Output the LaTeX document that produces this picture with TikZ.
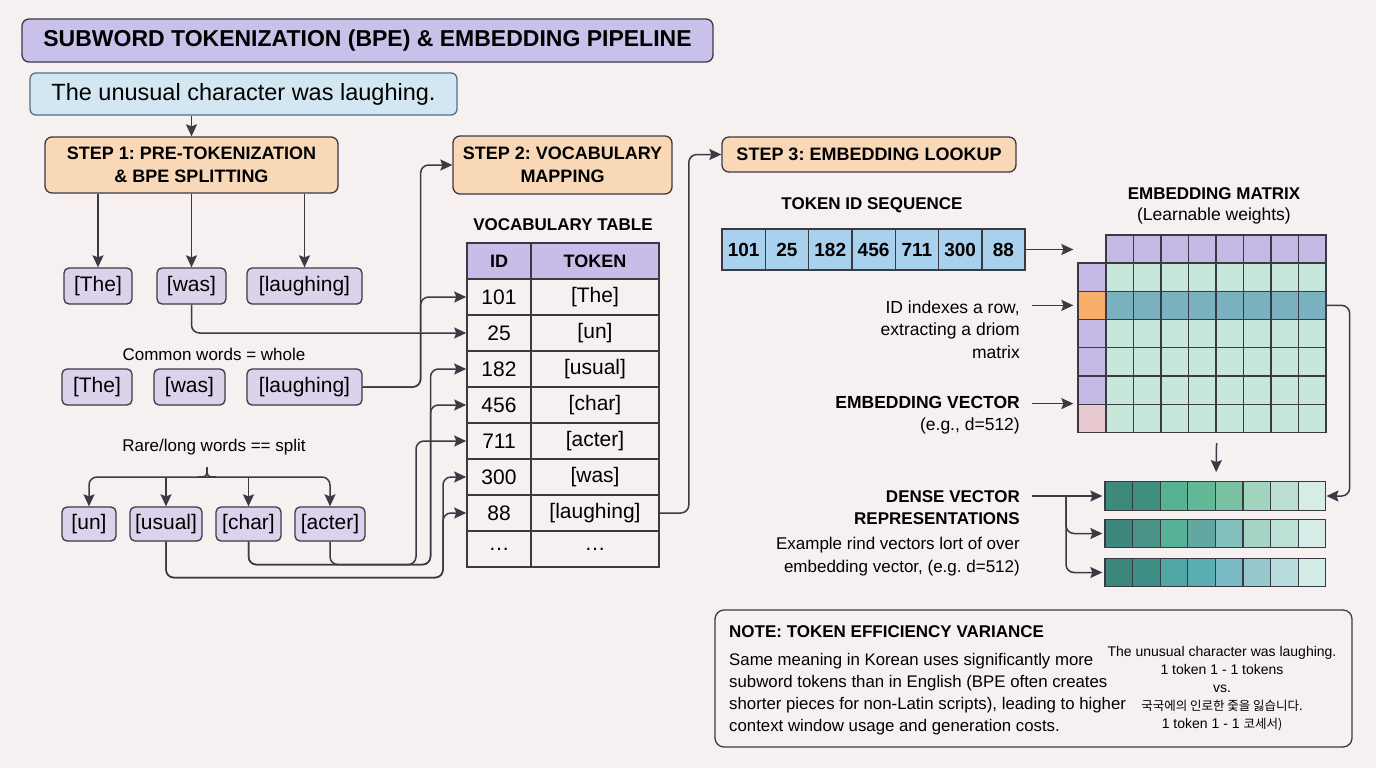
\documentclass[tikz,border=0pt]{standalone}
\usepackage{fontspec}
\setmainfont{Liberation Sans}
\newfontfamily\krfont{Noto Sans CJK KR}
\usepackage{tikz}
\usetikzlibrary{arrows.meta, positioning}
\frenchspacing

\definecolor{paper}{HTML}{F6F0F0}
\definecolor{linegrey}{HTML}{3A3A44}
\definecolor{titlefill}{HTML}{C9C1E9}
\definecolor{sentfill}{HTML}{D3E7F2}
\definecolor{sentdraw}{HTML}{4F7189}
\definecolor{stepfill}{HTML}{F9D8B7}
\definecolor{tokfill}{HTML}{DCD2EC}
\definecolor{headfill}{HTML}{C7BDE8}
\definecolor{seqfill}{HTML}{A9D0EC}
\definecolor{keypurple}{HTML}{C4B8E4}
\definecolor{keyorange}{HTML}{F6AE68}
\definecolor{keypink}{HTML}{E8C8CF}
\definecolor{mint}{HTML}{C6E7DA}
\definecolor{hilite}{HTML}{7AB2BF}

\tikzstyle{titlebox} = [rectangle, rounded corners=7pt, draw=linegrey, line width=1.3pt, fill=titlefill, minimum width=691pt, minimum height=43pt, inner sep=0pt, font=\fontsize{23}{27}\selectfont\bfseries]
\tikzstyle{sentbox} = [rectangle, rounded corners=6pt, draw=sentdraw, line width=1.3pt, fill=sentfill, minimum width=427pt, minimum height=42pt, inner sep=0pt, font=\fontsize{23.5}{28}\selectfont]
\tikzstyle{stepbox} = [rectangle, rounded corners=7pt, draw=linegrey, line width=1.3pt, fill=stepfill, inner sep=0pt, align=center, font=\fontsize{18}{23}\selectfont\bfseries]
\tikzstyle{tokbox} = [rectangle, rounded corners=5pt, draw=linegrey, line width=1.3pt, fill=tokfill, minimum height=36pt, inner sep=0pt, font=\fontsize{21}{25}\selectfont]
\tikzstyle{cell} = [rectangle, draw=linegrey, line width=1.6pt, minimum height=36pt, inner sep=0pt, font=\fontsize{21}{25}\selectfont]
\tikzstyle{seqcell} = [rectangle, draw=linegrey, line width=1.4pt, fill=seqfill, minimum width=43.3pt, minimum height=41pt, inner sep=0pt, font=\fontsize{19}{23}\selectfont\bfseries]
\tikzstyle{mcell} = [rectangle, draw=linegrey, line width=1.3pt, minimum width=27.5pt, minimum height=28.25pt, inner sep=0pt]
\tikzstyle{vcell} = [rectangle, draw=linegrey, line width=1.3pt, minimum width=27.6pt, minimum height=28.5pt, inner sep=0pt]
\tikzstyle{heading} = [inner sep=0pt, font=\fontsize{17}{21}\selectfont\bfseries]
\tikzstyle{sidetext} = [inner sep=0pt, align=right, anchor=east, font=\fontsize{17.5}{22.5}\selectfont]
\tikzstyle{notebox} = [rectangle, rounded corners=9pt, draw=linegrey, line width=1.3pt, fill=paper, minimum width=637pt, minimum height=137pt]
\tikzstyle{wire} = [line width=1.5pt, draw=linegrey]
\tikzstyle{arrow} = [line width=1.5pt, draw=linegrey, rounded corners=8pt, ->, >={Stealth[length=12pt,width=11pt,inset=2pt]}]

\begin{document}
\begin{tikzpicture}[x=1pt, y=-1pt]
\useasboundingbox[fill=paper] (0,0) rectangle (1376,768);

% title and input
\node (title) [titlebox] at (367.5,40.5) {SUBWORD TOKENIZATION (BPE) \& EMBEDDING PIPELINE};
\node (sentence) [sentbox] at (243.5,94) {The unusual character was laughing.};

% the three steps
\node (step1) [stepbox, minimum width=293pt, minimum height=56pt] at (191.5,165) {STEP 1: PRE-TOKENIZATION\\\& BPE SPLITTING};
\node (step2) [stepbox, minimum width=219pt, minimum height=58pt] at (562.5,165) {STEP 2: VOCABULARY\\MAPPING};
\node (step3) [stepbox, minimum width=294pt, minimum height=35pt] at (869,154.5) {STEP 3: EMBEDDING LOOKUP};

% pre-tokenized words
\node (the1) [tokbox, minimum width=68pt] at (98,286) {[The]};
\node (was1) [tokbox, minimum width=69pt] at (191.5,286) {[was]};
\node (laugh1) [tokbox, minimum width=115pt] at (304.5,286) {[laughing]};

\node (common) [font=\fontsize{17}{21}\selectfont, inner sep=0pt] at (214,354) {Common words = whole};
\node (the2) [tokbox, minimum width=70pt] at (97,387) {[The]};
\node (was2) [tokbox, minimum width=71pt] at (189.5,387) {[was]};
\node (laugh2) [tokbox, minimum width=115pt] at (304.5,387) {[laughing]};

\node (rare) [font=\fontsize{17}{21}\selectfont, inner sep=0pt] at (214,447) {Rare/long words == split};
\node (un) [tokbox, minimum width=54pt, minimum height=34pt] at (89,524) {[un]};
\node (usual) [tokbox, minimum width=72pt, minimum height=34pt] at (166,524) {[usual]};
\node (char) [tokbox, minimum width=65pt, minimum height=34pt] at (248.5,524) {[char]};
\node (acter) [tokbox, minimum width=70pt, minimum height=34pt] at (330,524) {[acter]};

% vocabulary table
\node (vocab) [heading] at (563,225) {VOCABULARY TABLE};
\node (idh) [cell, fill=headfill, minimum width=64pt, font=\fontsize{18}{22}\selectfont\bfseries] at (499,261) {ID};
\node (tokh) [cell, fill=headfill, minimum width=128pt, font=\fontsize{18}{22}\selectfont\bfseries] at (595,261) {TOKEN};
\foreach \vid/\vtok [count=\r] in {101/{[The]}, 25/{[un]}, 182/{[usual]}, 456/{[char]}, 711/{[acter]}, 300/{[was]}, 88/{[laughing]}, {\ldots}/{\ldots}} {
  \node (id\r) [cell, minimum width=64pt] at (499,{261+36*\r}) {\vid};
  \node (tok\r) [cell, minimum width=128pt] at (595,{261+36*\r}) {\vtok};
}

% token ids
\node (seqlbl) [heading] at (872,205) {TOKEN ID SEQUENCE};
\foreach \vid [count=\k] in {101,25,182,456,711,300,88}
  \node (seq-\k) [seqcell] at ({722+43.3*(\k-0.5)},249.5) {\vid};

% embedding matrix
\node (matlbl) [heading] at (1214,194) {EMBEDDING MATRIX};
\node (matsub) [font=\fontsize{17.5}{21}\selectfont, inner sep=0pt] at (1214,216) {(Learnable weights)};
\foreach \c in {1,...,8}
  \node (head-\c) [mcell, fill=keypurple] at ({1106+27.5*(\c-0.5)},249) {};
\foreach \r/\kc/\mc in {1/keypurple/mint, 2/keyorange/hilite, 3/keypurple/mint, 4/keypurple/mint, 5/keypurple/mint, 6/keypink/mint} {
  \node (key-\r) [mcell, fill=\kc, minimum width=28pt] at (1092,{263+28.25*(\r-0.5)}) {};
  \foreach \c in {1,...,8}
    \node (mat-\r-\c) [mcell, fill=\mc] at ({1106+27.5*(\c-0.5)},{263+28.25*(\r-0.5)}) {};
}

% dense vectors
\foreach \v/\y/\cols in {1/496/{3E8A78,3F8F7C,55B292,62B896,78C2A2,A2D4BD,BADFD0,D5EDE4},
                         2/533.5/{3E877E,4A9487,58B096,63A8A0,82C0BC,A4D5C4,BCDFD6,D6ECE7},
                         3/572.5/{3D877A,3D8F85,4FA6A2,5AADB1,7BBBC6,97C8CD,B7DCDD,D3ECE8}} {
  \foreach \hex [count=\c] in \cols {
    \definecolor{cellc}{HTML}{\hex}
    \node (vec-\v-\c) [vcell, fill=cellc] at ({1105+27.6*(\c-0.5)},\y) {};
  }
}

% side labels
\node (rowlbl) [sidetext] at (1020,329.5) {ID indexes a row,\\extracting a driom\\matrix};
\node (veclbl) [sidetext] at (1020,415) {{\bfseries EMBEDDING VECTOR}\\(e.g., d=512)};
\node (denselbl) [sidetext, font=\fontsize{17}{22}\selectfont\bfseries] at (1020,508) {DENSE VECTOR\\REPRESENTATIONS};
\node (exlbl) [sidetext, font=\fontsize{17}{23}\selectfont] at (1020,556.5) {Example rind vectors lort of over\\embedding vector, (e.g. d=512)};

% note
\node (note) [notebox] at (1033.5,678.5) {};
\node (notehead) [heading, anchor=west] at (729,632) {NOTE: TOKEN EFFICIENCY VARIANCE};
\node (notebody) [anchor=west, align=left, inner sep=0pt, font=\fontsize{16.8}{22}\selectfont] at (729,694)
  {Same meaning in Korean uses significantly more\\subword tokens than in English (BPE often creates\\shorter pieces for non-Latin scripts), leading to higher\\context window usage and generation costs.};
\node (notecmp) [align=center, inner sep=0pt, font=\fontsize{14}{18}\selectfont] at (1222,688.5)
  {The unusual character was laughing.\\1 token 1 - 1 tokens\\vs.\\{\krfont\fontsize{12.5}{18}\selectfont 국국에의 인로한 줓을 잃습니다.}\\1 token 1 - 1 {\krfont\fontsize{12.5}{18}\selectfont 코세서)}};

% step 1 connectors
\draw [arrow] (step1.north |- sentence.south) -- (step1.north);
\draw [arrow] (step1.south -| the1) -- (the1.north);
\draw [arrow] (step1.south -| was1) -- (was1.north);
\draw [arrow] (step1.south -| laugh1) -- (laugh1.north);

\coordinate (brmid) at (207,477);
\draw [wire] ([xshift=-9pt]brmid) .. controls (brmid) .. ([yshift=10pt]brmid) .. controls (brmid) .. ([xshift=9pt]brmid);
\draw [arrow] (brmid) -| (un.north);
\draw [arrow] (brmid) -| (acter.north);
\draw [arrow] (usual.north |- brmid) -- (usual.north);
\draw [arrow] (char.north |- brmid) -- (char.north);

% words into the table
\draw [arrow] (was1.south) |- (id2.west);
\draw [arrow] (laugh2.east) -- ++(58,0) |- (step2.west);
\draw [arrow] (laugh2.east) -- ++(58,0) |- (id1.west);
\draw [arrow] (char.south) |- ++(182,23) |- (id3.west);
\draw [arrow] (char.south) |- ++(182,23) |- (id4.west);
\draw [arrow] (acter.south) |- ++(86,23) |- (id5.west);
\draw [arrow] (usual.south) |- ++(277,36) |- (id6.west);
\draw [arrow] (usual.south) |- ++(277,36) |- (id7.west);
\draw [arrow] (tok7.east) -- ++(29,0) |- (step3.west);

% lookup connectors
\draw [arrow, shorten >=4pt] (seq-7.east) -- (seq-7.east -| key-1.west);
\draw [arrow, shorten <=12pt, shorten >=4pt] (rowlbl.east |- key-2.west) -- (key-2.west);
\draw [arrow, shorten <=12pt, shorten >=4pt] (veclbl.east |- key-6.north west) -- (key-6.north west);
\draw [arrow, shorten <=10pt, shorten >=9pt] (mat-6-4.south east) -- (vec-1-4.north east);
\draw [arrow] (mat-2-8.east) -- ++(23,0) |- (vec-1-8.east);
\draw [arrow, shorten <=12pt, shorten >=2pt] (denselbl.east |- vec-1-1.west) -- (vec-1-1.west);
\coordinate (fork) at (1066,496);
\draw [arrow, shorten >=2pt] (fork) |- (vec-2-1.west);
\draw [arrow, shorten >=2pt] (fork) |- (vec-3-1.west);

\end{tikzpicture}
\end{document}
